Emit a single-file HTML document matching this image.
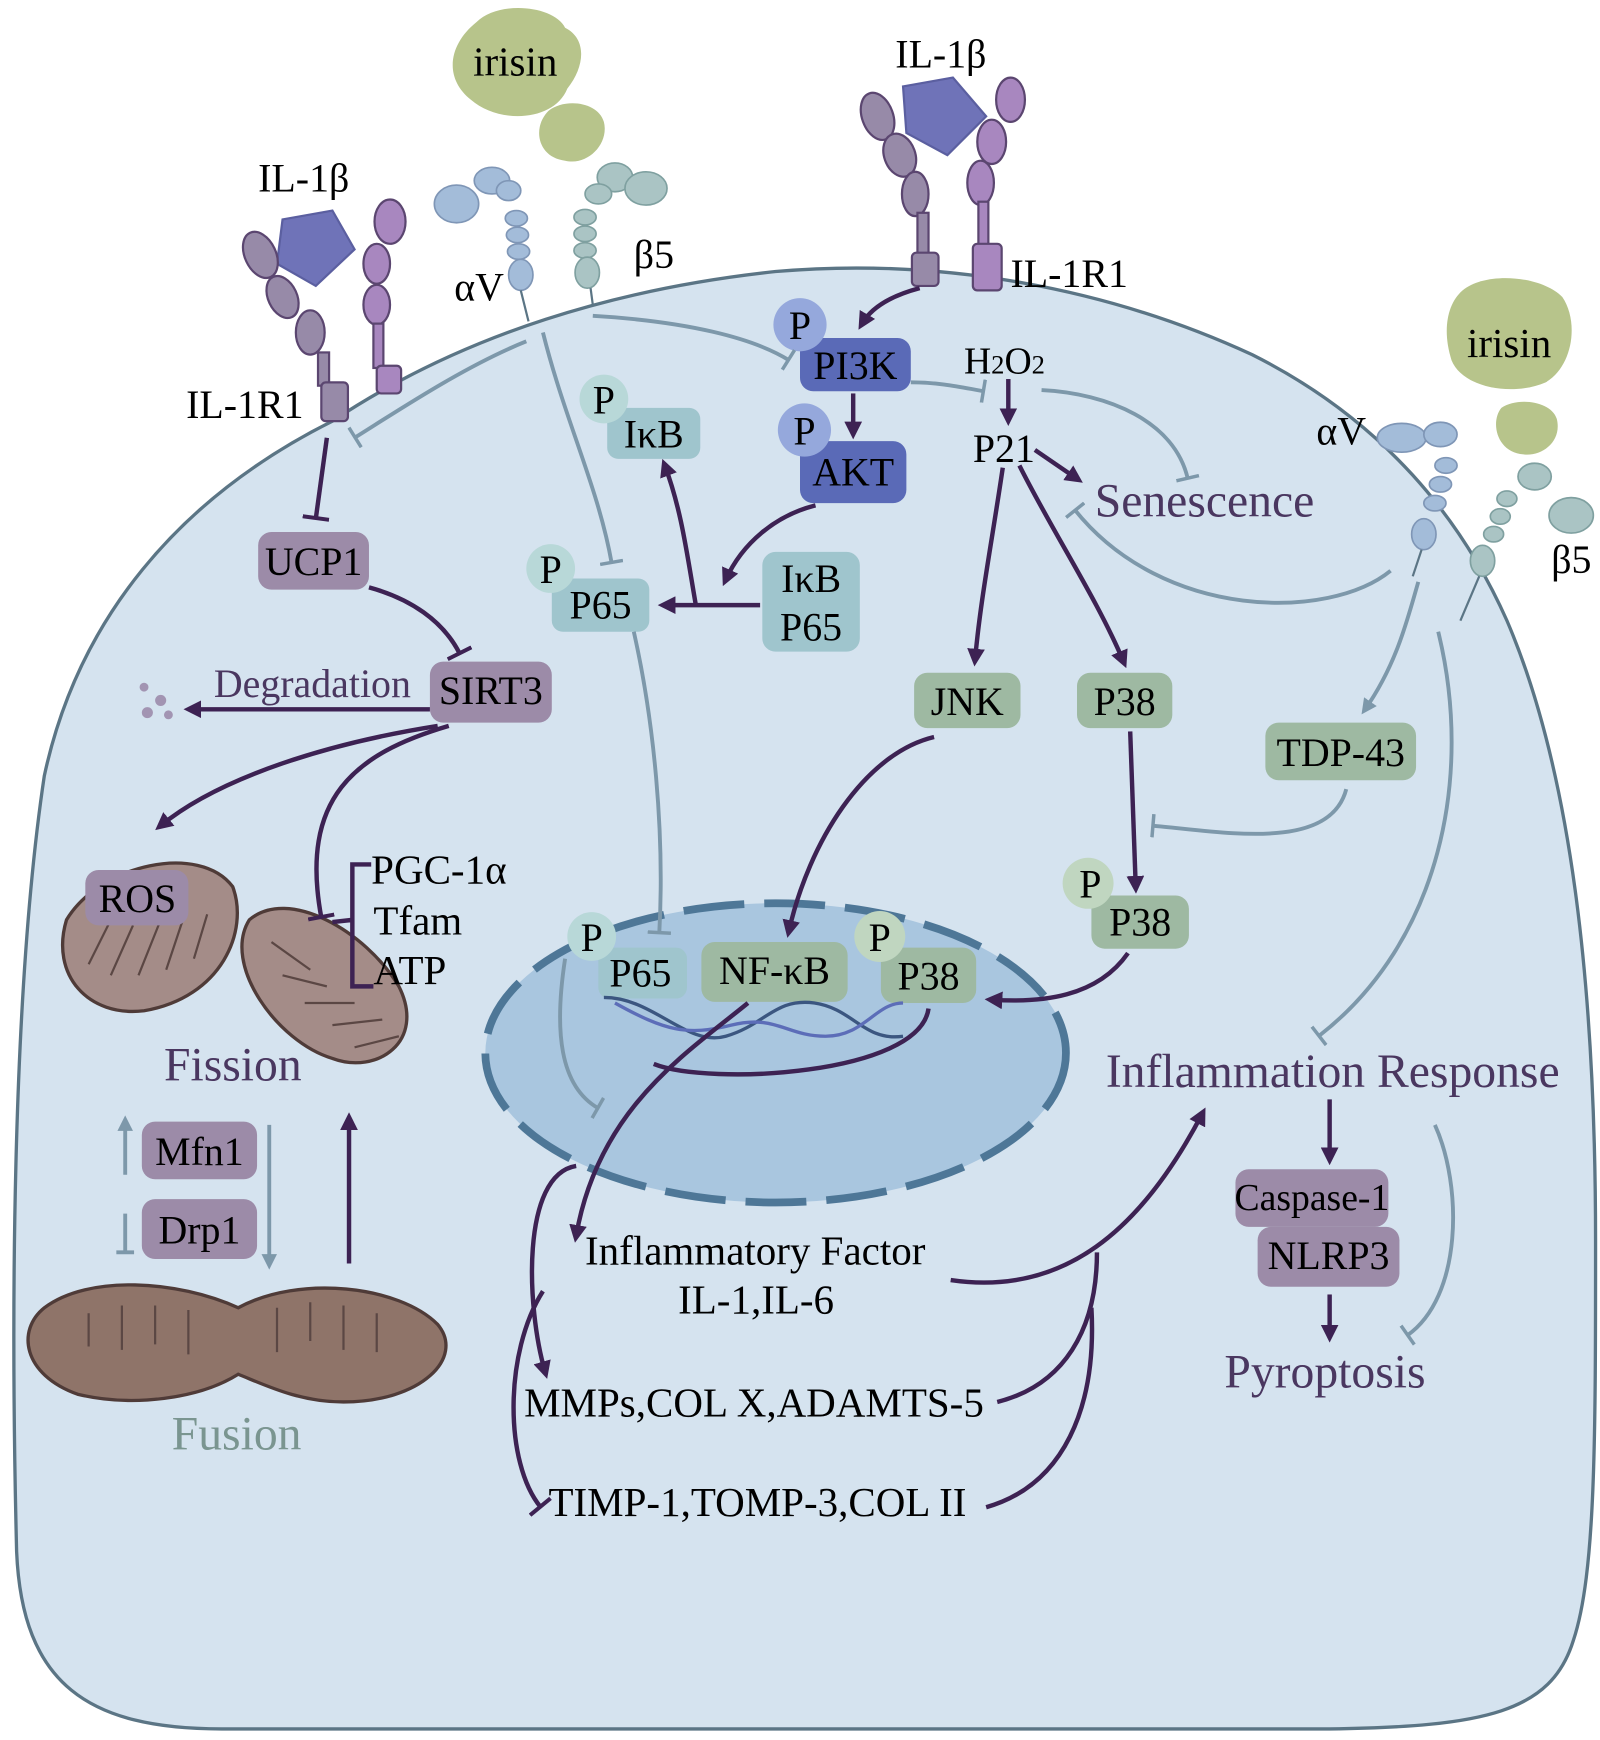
<!DOCTYPE html>
<html><head><meta charset="utf-8"><style>
html,body{margin:0;padding:0;background:#fff;}
svg{display:block;}
text{font-family:"Liberation Serif",serif;}
</style></head><body>
<svg width="1600" height="1740" viewBox="0 0 1444 1570" preserveAspectRatio="none" xmlns="http://www.w3.org/2000/svg">
<defs>
<marker id="a" viewBox="0 0 10 10" refX="6" refY="5" markerWidth="4" markerHeight="4" orient="auto"><path d="M0,0 L10,5 L0,10 z" fill="#3d2253"/></marker>
<marker id="g" viewBox="0 0 10 10" refX="6" refY="5" markerWidth="4" markerHeight="4" orient="auto"><path d="M0,0 L10,5 L0,10 z" fill="#7d98aa"/></marker>
<marker id="t" viewBox="0 0 4 20" refX="2" refY="10" markerWidth="3" markerHeight="6" orient="auto"><rect x="0" y="0" width="3" height="20" fill="#7d98aa"/></marker>
<marker id="tp" viewBox="0 0 4 20" refX="2" refY="10" markerWidth="3" markerHeight="6" orient="auto"><rect x="0" y="0" width="3" height="20" fill="#3d2253"/></marker>
</defs>
<path d="M300,380 C420,300 560,260 700,245 C850,232 1000,260 1130,320 C1250,380 1320,470 1360,560 C1420,700 1440,900 1440,1120 C1440,1300 1440,1420 1420,1480 C1400,1545 1340,1558 1200,1560 L200,1560 C80,1560 20,1520 15,1400 C10,1200 10,900 40,700 C70,560 160,450 300,380 Z" fill="#d5e3ef" stroke="#5b7585" stroke-width="3"/>
<ellipse cx="700" cy="950" rx="262" ry="135" fill="#a9c6df" stroke="#4e7797" stroke-width="7" stroke-dasharray="55,18"/>
<path d="M430,20 C450,0 500,5 510,25 C530,35 528,60 512,80 C500,110 450,112 425,90 C400,70 405,40 430,20 Z" fill="#b7c48b"/>
<text x="465" y="68" font-size="37" text-anchor="middle">irisin</text>
<path d="M495,100 C510,88 540,92 545,110 C550,130 530,150 510,145 C485,142 480,115 495,100 Z" fill="#b7c48b"/>
<path d="M1320,262 C1340,245 1390,248 1410,268 C1425,290 1420,330 1395,345 C1365,358 1320,350 1310,325 C1302,300 1305,275 1320,262 Z" fill="#b7c48b"/>
<text x="1362" y="322" font-size="37" text-anchor="middle">irisin</text>
<path d="M1355,368 C1370,358 1400,362 1405,378 C1410,398 1392,412 1375,410 C1350,408 1345,380 1355,368 Z" fill="#b7c48b"/>
<g fill="#a3bcd9" stroke="#7f96b6" stroke-width="1.5">
<ellipse cx="412" cy="184" rx="20" ry="17"/><ellipse cx="444" cy="163" rx="16" ry="12"/><ellipse cx="459" cy="172" rx="11" ry="9"/>
<ellipse cx="466" cy="197" rx="10" ry="7"/><ellipse cx="467" cy="212" rx="10" ry="7"/><ellipse cx="468" cy="227" rx="10" ry="7"/><ellipse cx="470" cy="248" rx="11" ry="14"/>
<ellipse cx="1265" cy="395" rx="22" ry="13"/><ellipse cx="1300" cy="392" rx="15" ry="11"/><ellipse cx="1305" cy="420" rx="10" ry="7"/><ellipse cx="1300" cy="437" rx="10" ry="7"/><ellipse cx="1295" cy="454" rx="10" ry="7"/><ellipse cx="1285" cy="482" rx="11" ry="14"/>
</g>
<line x1="470" y1="262" x2="477" y2="290" stroke="#5b7585" stroke-width="2"/>
<line x1="1283" y1="496" x2="1275" y2="520" stroke="#5b7585" stroke-width="2"/>
<g fill="#aac4c4" stroke="#7fa0a0" stroke-width="1.5">
<ellipse cx="555" cy="160" rx="16" ry="13"/><ellipse cx="540" cy="175" rx="12" ry="9"/><ellipse cx="583" cy="170" rx="19" ry="15"/>
<ellipse cx="528" cy="196" rx="10" ry="7"/><ellipse cx="528" cy="211" rx="10" ry="7"/><ellipse cx="528" cy="226" rx="10" ry="7"/><ellipse cx="530" cy="246" rx="11" ry="14"/>
<ellipse cx="1385" cy="430" rx="15" ry="12"/><ellipse cx="1418" cy="465" rx="20" ry="16"/><ellipse cx="1360" cy="450" rx="9" ry="7"/><ellipse cx="1354" cy="466" rx="9" ry="7"/><ellipse cx="1348" cy="482" rx="9" ry="7"/><ellipse cx="1338" cy="506" rx="11" ry="14"/>
</g>
<line x1="533" y1="260" x2="535" y2="275" stroke="#5b7585" stroke-width="2"/>
<line x1="1335" y1="520" x2="1318" y2="560" stroke="#5b7585" stroke-width="2"/>
<text x="410" y="271" font-size="36">αV</text>
<text x="572" y="242" font-size="36">β5</text>
<text x="1188" y="401" font-size="36">αV</text>
<text x="1400" y="517" font-size="36">β5</text>
<g stroke="#5b4670" stroke-width="2">
<polygon points="255,198 300,190 320,225 285,258 250,238" fill="#6f73b8" stroke="#5b5fa0"/>
<ellipse cx="235" cy="230" rx="14" ry="22" fill="#978aa8" transform="rotate(-25 235 230)"/>
<ellipse cx="255" cy="268" rx="13" ry="20" fill="#978aa8" transform="rotate(-25 255 268)"/>
<ellipse cx="280" cy="300" rx="13" ry="20" fill="#978aa8"/>
<rect x="287" y="318" width="10" height="30" fill="#978aa8"/>
<rect x="290" y="345" width="24" height="35" rx="4" fill="#978aa8"/>
<ellipse cx="352" cy="200" rx="14" ry="20" fill="#a887bf"/>
<ellipse cx="340" cy="238" rx="12" ry="18" fill="#a887bf"/>
<ellipse cx="340" cy="275" rx="12" ry="18" fill="#a887bf"/>
<rect x="337" y="292" width="9" height="40" fill="#a887bf"/>
<rect x="340" y="330" width="22" height="25" rx="4" fill="#a887bf"/>
<polygon points="815,78 860,70 890,105 855,140 818,120" fill="#6f73b8" stroke="#5b5fa0"/>
<ellipse cx="792" cy="105" rx="14" ry="22" fill="#978aa8" transform="rotate(-20 792 105)"/>
<ellipse cx="812" cy="140" rx="14" ry="20" fill="#978aa8" transform="rotate(-20 812 140)"/>
<ellipse cx="826" cy="175" rx="12" ry="20" fill="#978aa8"/>
<rect x="828" y="192" width="10" height="40" fill="#978aa8"/>
<rect x="823" y="228" width="24" height="30" rx="4" fill="#978aa8"/>
<ellipse cx="912" cy="90" rx="13" ry="20" fill="#a887bf"/>
<ellipse cx="895" cy="128" rx="13" ry="20" fill="#a887bf"/>
<ellipse cx="885" cy="165" rx="12" ry="20" fill="#a887bf"/>
<rect x="883" y="182" width="9" height="40" fill="#a887bf"/>
<rect x="878" y="220" width="26" height="42" rx="4" fill="#a887bf"/>
</g>
<text x="233" y="173" font-size="36">IL-1β</text>
<text x="168" y="377" font-size="36">IL-1R1</text>
<text x="808" y="61" font-size="36">IL-1β</text>
<text x="912" y="259" font-size="36">IL-1R1</text>
<g stroke="#4f3b38" stroke-width="3">
<path d="M60,830 C90,780 180,760 210,800 C225,840 200,900 130,912 C80,918 45,880 60,830 Z" fill="#a48c88"/>
<path d="M225,830 C260,800 330,840 360,890 C385,940 340,970 300,955 C250,940 200,870 225,830 Z" fill="#a48c88"/>
<path d="M40,1180 C80,1150 160,1155 215,1180 C270,1150 360,1160 395,1195 C420,1225 380,1265 310,1265 C270,1265 240,1250 215,1240 C180,1262 120,1270 70,1258 C20,1240 15,1200 40,1180 Z" fill="#8f7469"/>
</g>
<g stroke="#5b4744" stroke-width="2" fill="none">
<path d="M80,870 l20,-40 M100,880 l20,-45 M125,880 l20,-50 M150,875 l15,-45 M175,865 l12,-40"/>
<path d="M245,850 l35,25 M255,880 l40,10 M275,905 l45,0 M300,925 l45,-5 M320,945 l40,-10"/>
<path d="M80,1185 l0,30 M110,1178 l0,40 M140,1178 l0,35 M170,1182 l0,40 M250,1180 l0,40 M280,1175 l0,35 M310,1178 l0,40 M340,1185 l0,35"/>
</g>
<g font-size="36" text-anchor="middle">
<rect x="722" y="305" width="100" height="48" rx="12" fill="#5a6ab7"/><text x="772" y="342">PI3K</text>
<rect x="722" y="398" width="96" height="56" rx="12" fill="#5a6ab7"/><text x="770" y="438">AKT</text>
<circle cx="722" cy="293" r="24" fill="#95a8dc"/><text x="722" y="306">P</text>
<circle cx="726" cy="388" r="24" fill="#95a8dc"/><text x="726" y="401">P</text>
<rect x="548" y="368" width="84" height="46" rx="10" fill="#9fc5cd"/><text x="590" y="404">IκB</text>
<circle cx="545" cy="360" r="22" fill="#b8d8d8"/><text x="545" y="373">P</text>
<rect x="498" y="522" width="88" height="48" rx="10" fill="#9fc5cd"/><text x="542" y="558">P65</text>
<circle cx="497" cy="513" r="22" fill="#b8d8d8"/><text x="497" y="526">P</text>
<rect x="688" y="498" width="88" height="90" rx="12" fill="#9fc5cd"/><text x="732" y="534">IκB</text><text x="732" y="578">P65</text>
<rect x="233" y="480" width="100" height="52" rx="12" fill="#9c8ba8"/><text x="283" y="519">UCP1</text>
<rect x="388" y="597" width="110" height="55" rx="12" fill="#9c8ba8"/><text x="443" y="635">SIRT3</text>
<rect x="77" y="785" width="93" height="50" rx="12" fill="#9c8ba8"/><text x="124" y="823">ROS</text>
<rect x="128" y="1012" width="104" height="52" rx="12" fill="#9c8ba8"/><text x="180" y="1051">Mfn1</text>
<rect x="128" y="1082" width="104" height="54" rx="12" fill="#9c8ba8"/><text x="180" y="1122">Drp1</text>
<rect x="825" y="607" width="96" height="50" rx="12" fill="#9eb9a2"/><text x="873" y="645">JNK</text>
<rect x="972" y="607" width="86" height="50" rx="12" fill="#9eb9a2"/><text x="1015" y="645">P38</text>
<rect x="1142" y="652" width="136" height="52" rx="12" fill="#9eb9a2"/><text x="1210" y="691">TDP-43</text>
<rect x="985" y="808" width="88" height="48" rx="12" fill="#9eb9a2"/><text x="1029" y="844">P38</text>
<circle cx="982" cy="797" r="23" fill="#c0d6c0"/><text x="984" y="810">P</text>
<rect x="540" y="855" width="80" height="46" rx="10" fill="#9fc5cd"/><text x="578" y="890">P65</text>
<circle cx="534" cy="845" r="22" fill="#b8d8d8"/><text x="534" y="858">P</text>
<rect x="633" y="850" width="132" height="54" rx="12" fill="#9eb9a2"/><text x="699" y="888">NF-κB</text>
<rect x="795" y="855" width="86" height="50" rx="12" fill="#9eb9a2"/><text x="838" y="893">P38</text>
<circle cx="794" cy="845" r="23" fill="#c0d6c0"/><text x="794" y="858">P</text>
<rect x="1115" y="1055" width="138" height="52" rx="12" fill="#9c8ba8"/><text x="1184" y="1092" font-size="34">Caspase-1</text>
<rect x="1135" y="1107" width="128" height="54" rx="12" fill="#9c8ba8"/><text x="1199" y="1145">NLRP3</text>
</g>
<g fill="none" stroke-width="3">
<path d="M545,900 C590,900 620,945 655,935 C690,925 700,900 735,905 C770,910 780,940 815,935" stroke="#3b5680"/>
<path d="M555,905 C600,930 620,935 660,925 C700,915 710,935 745,935 C780,935 790,905 815,905" stroke="#5c6db8"/>
</g>
<g font-size="37">
<text x="870" y="337" font-size="34">H<tspan font-size="24">2</tspan>O<tspan font-size="24">2</tspan></text>
<text x="878" y="417" font-size="36">P21</text>
<text x="988" y="466" font-size="43" fill="#4a3760">Senescence</text>
<text x="193" y="629" font-size="36" fill="#4a3760">Degradation</text>
<text x="335" y="797">PGC-1α</text>
<text x="337" y="843">Tfam</text>
<text x="337" y="888">ATP</text>
<text x="148" y="975" font-size="43" fill="#4a3760">Fission</text>
<text x="155" y="1308" font-size="43" fill="#7a9590">Fusion</text>
<text x="998" y="981" font-size="43" fill="#4a3760">Inflammation Response</text>
<text x="1105" y="1252" font-size="43" fill="#4a3760">Pyroptosis</text>
<text x="528" y="1141">Inflammatory Factor</text>
<text x="612" y="1185">IL-1,IL-6</text>
<text x="473" y="1278">MMPs,COL X,ADAMTS-5</text>
<text x="495" y="1368">TIMP-1,TOMP-3,COL II</text>
</g>
<g fill="#a294b2"><circle cx="130" cy="620" r="4"/><circle cx="145" cy="632" r="5"/><circle cx="133" cy="643" r="5"/><circle cx="152" cy="645" r="4"/></g>
<g fill="none" stroke="#3d2253" stroke-width="4" marker-end="url(#a)">
<path d="M830,260 C800,268 785,280 778,292"/>
<path d="M770,355 L770,390"/>
<path d="M736,456 C700,465 670,490 655,523"/>
<path d="M686,546 L600,546"/>
<path d="M628,546 C620,500 615,460 600,420"/>
<path d="M910,342 L910,378"/>
<path d="M934,406 L972,432"/>
<path d="M905,422 C895,490 885,540 880,595"/>
<path d="M920,420 C950,480 990,540 1014,597"/>
<path d="M1020,660 L1025,800"/>
<path d="M1018,860 C990,900 940,905 895,902"/>
<path d="M843,665 C780,680 730,760 712,840"/>
<path d="M388,640 L172,640"/>
<path d="M395,655 C300,670 200,700 145,745"/>
<path d="M315,1140 L315,1010"/>
<path d="M1200,992 L1200,1045"/>
<path d="M1200,1168 L1200,1205"/>
<path d="M675,905 C620,950 540,1000 520,1115"/>
<path d="M520,1052 C470,1060 475,1180 492,1238"/>
<path d="M858,1155 C960,1170 1030,1110 1085,1005"/>
</g>
<g fill="none" stroke="#3d2253" stroke-width="4">
<path d="M838,910 C830,970 640,980 590,960"/>
<path d="M900,1265 C960,1250 990,1200 990,1130"/>
<path d="M890,1360 C960,1340 990,1270 985,1180"/>
<path d="M335,780 L318,780 L318,890 L337,890 M318,830 L300,832"/>
</g>
<g fill="none" stroke="#3d2253" stroke-width="4" marker-end="url(#tp)">
<path d="M295,395 L285,468"/>
<path d="M333,530 C370,540 400,560 415,590"/>
<path d="M405,655 C320,680 270,720 290,828"/>
<path d="M490,1165 C455,1220 455,1320 488,1360"/>
</g>
<g fill="none" stroke="#7d98aa" stroke-width="3.5" marker-end="url(#t)">
<path d="M475,308 C420,330 360,370 320,395"/>
<path d="M535,285 C620,290 680,305 712,325"/>
<path d="M490,300 C510,380 540,440 552,508"/>
<path d="M822,345 C850,345 870,350 888,353"/>
<path d="M940,352 C1000,355 1060,380 1072,432"/>
<path d="M1255,515 C1200,560 1050,560 970,460"/>
<path d="M1215,712 C1200,770 1100,750 1040,745"/>
<path d="M1298,570 C1330,700 1300,850 1190,935"/>
<path d="M572,570 C590,650 600,750 595,842"/>
<path d="M1295,1015 C1320,1070 1320,1170 1270,1205"/>
<path d="M510,865 C500,930 505,980 540,1000"/>
</g>
<g fill="none" stroke="#7d98aa" stroke-width="3.5" marker-end="url(#g)">
<path d="M1280,525 C1270,560 1260,600 1232,640"/>
<path d="M243,1015 L243,1140"/>
<path d="M113,1060 L113,1012"/>
</g>
<path d="M113,1095 L113,1130 M105,1130 L121,1130" stroke="#7d98aa" stroke-width="3.5"/>
</svg>
</body></html>
